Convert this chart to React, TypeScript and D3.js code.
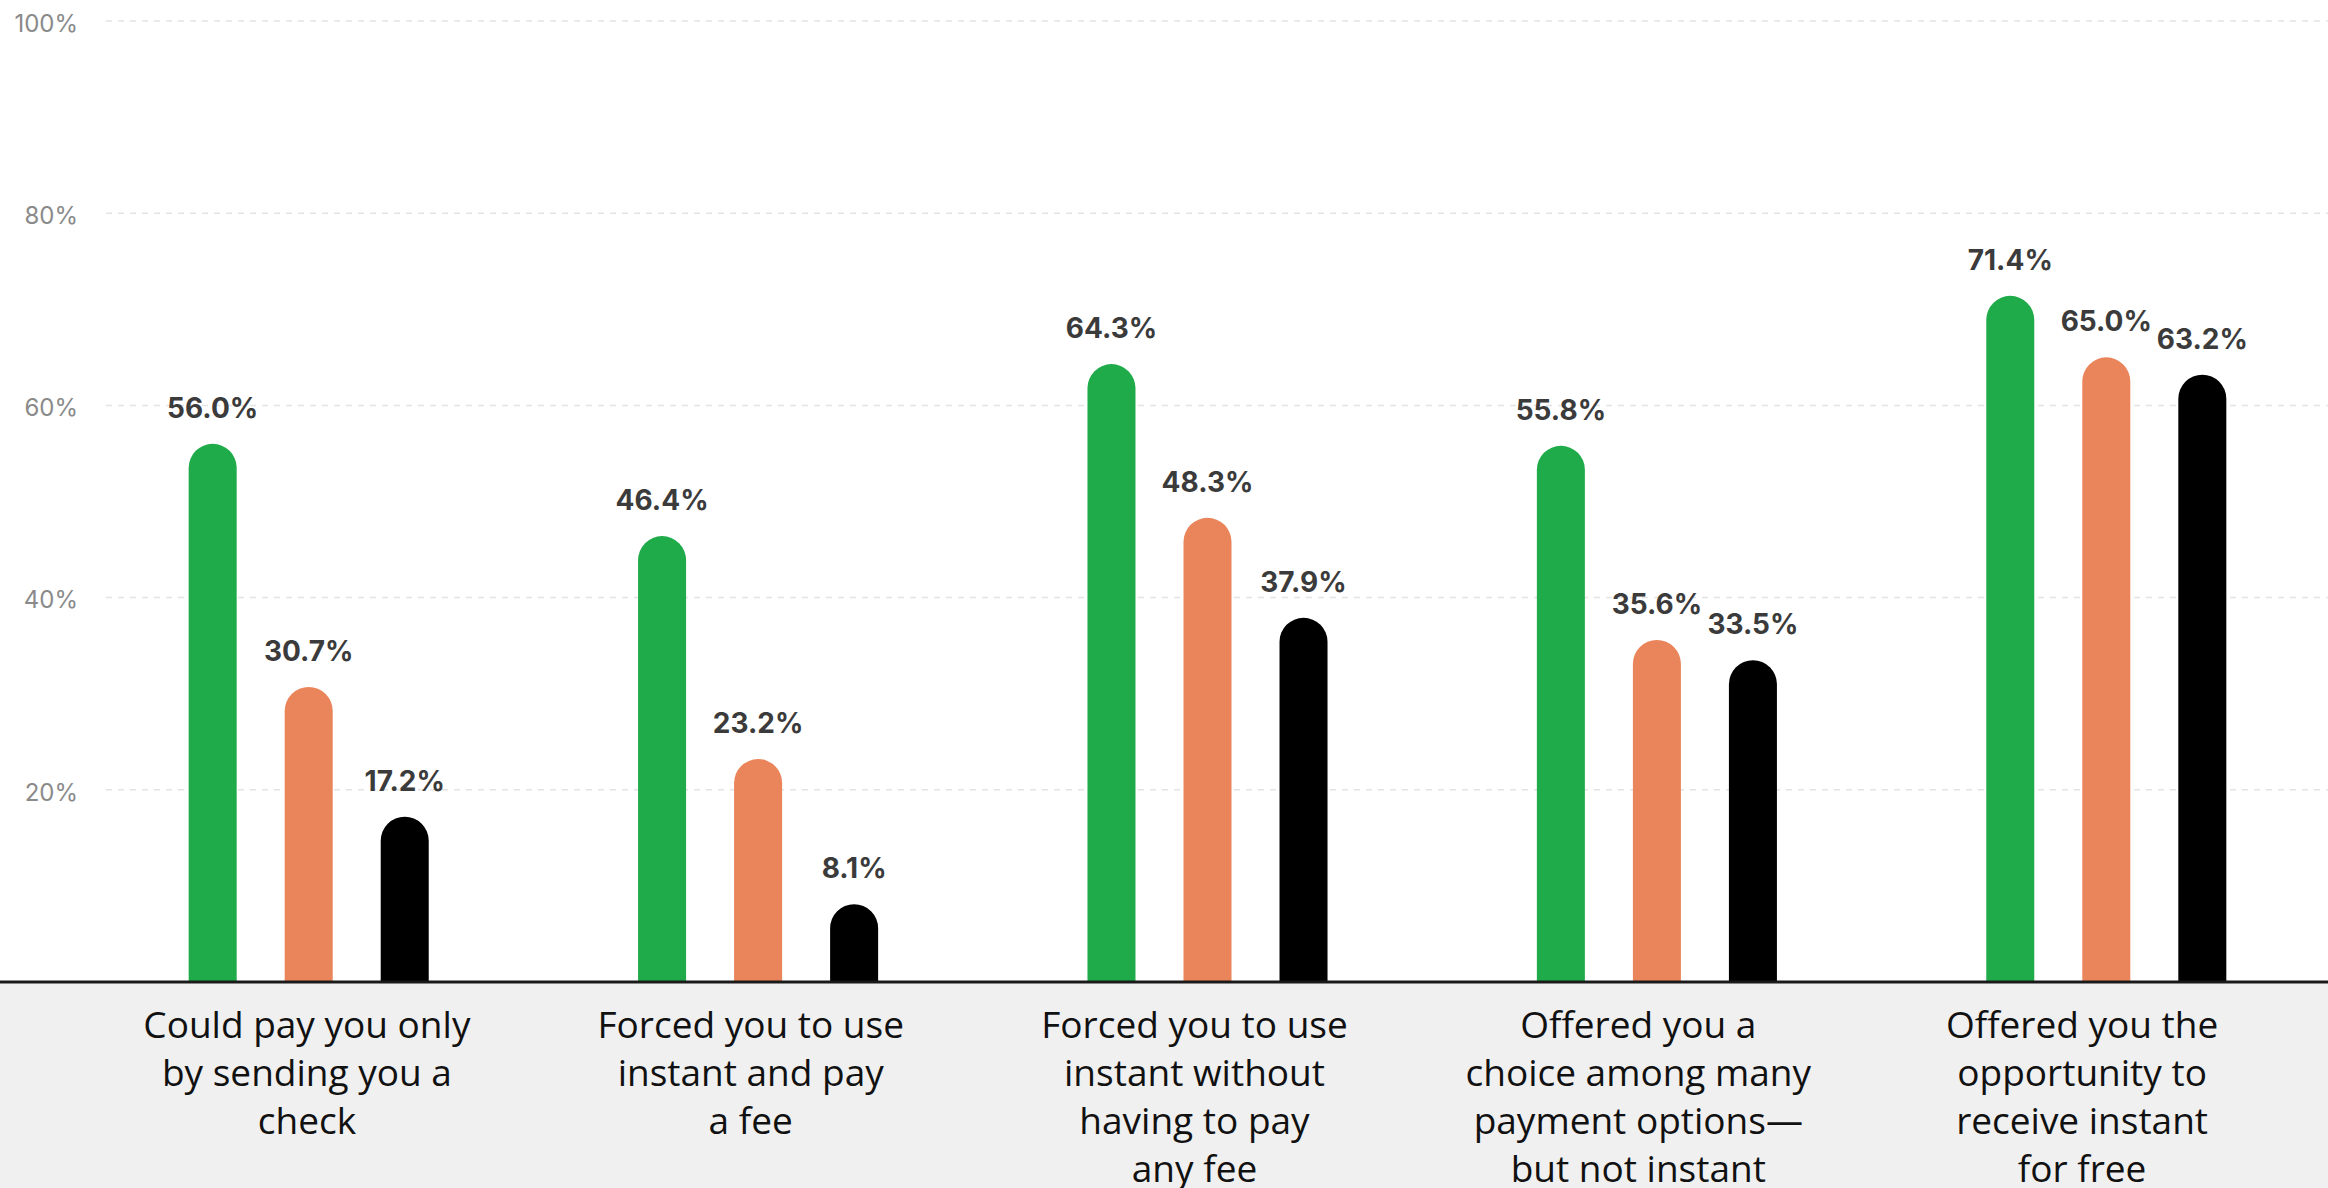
import React, { useEffect } from "react";
import * as d3 from "d3";

const categories: string[][] = [
  ["Could pay you only", "by sending you a", "check"],
  ["Forced you to use", "instant and pay", "a fee"],
  ["Forced you to use", "instant without", "having to pay", "any fee"],
  ["Offered you a", "choice among many", "payment options—", "but not instant"],
  ["Offered you the", "opportunity to", "receive instant", "for free"],
];
const seriesNames = ["green", "orange", "black"];
const greenValues = [56.0, 46.4, 64.3, 55.8, 71.4];
const orangeValues = [30.7, 23.2, 48.3, 35.6, 65.0];
const blackValues = [17.2, 8.1, 37.9, 33.5, 63.2];
const yTicks = [20, 40, 60, 80, 100];

const W = 2328;
const H = 1188;
const colors: Record<string, string> = { green: "#1fab4a", orange: "#ea845a", black: "#000000" };

export default function App() {
  useEffect(() => {
    document.body.style.margin = "0";
  }, []);

  const idx = categories.map((_, i) => String(i));
  const x = d3.scaleBand<string>().domain(idx).range([84, 2331]).padding(0);
  const xLabel = d3.scaleBand<string>().domain(idx).range([85, 2304]).padding(0);
  const step = x.step();
  const x1 = d3
    .scaleBand<string>()
    .domain(seriesNames)
    .range([-step * 0.3205, step * 0.3205])
    .paddingInner(0.5)
    .paddingOuter(0.25);
  const y = d3.scaleLinear().domain([0, 100]).range([982, 21]);

  const seriesData: Record<string, number[]> = {
    green: greenValues,
    orange: orangeValues,
    black: blackValues,
  };

  const bw = x1.bandwidth();
  const r = bw / 2;
  const barPath = (x0: number, yTop: number, yBase: number) =>
    `M${x0},${yBase}V${yTop + r}A${r},${r} 0 0 1 ${x0 + bw},${yTop + r}V${yBase}Z`;

  return (
    <svg width={W} height={H} style={{ position: "absolute", left: 0, top: 0, display: "block" }}>
      <rect x={0} y={0} width={W} height={H} fill="#ffffff" />
      <rect x={0} y={y(0)} width={W} height={H - y(0)} fill="#f0f0f0" />
      {yTicks.map((t) => (
        <g key={t}>
          <line
            x1={106}
            x2={W}
            y1={y(t)}
            y2={y(t)}
            stroke="#e3e3e3"
            strokeWidth={1.5}
            strokeDasharray="6 6"
          />
          <text
            x={78}
            y={y(t)}
            dy="0.45em"
            textAnchor="end"
            fontFamily="Inter, 'Noto Sans', sans-serif"
            fontSize={24}
            fill="#8a8a8a"
          >
            {t}%
          </text>
        </g>
      ))}
      {idx.map((ci) =>
        seriesNames.map((s) => {
          const v = seriesData[s][+ci];
          const cx = (x(ci) as number) + step / 2 + (x1(s) as number);
          return (
            <g key={ci + s}>
              <path d={barPath(cx, y(v), y(0))} fill={colors[s]} />
              <text
                x={cx + bw / 2}
                y={y(v) - 26}
                textAnchor="middle"
                fontFamily="Inter, 'Noto Sans', sans-serif"
                fontWeight={700}
                fontSize={28}
                fill="#3b3b3b"
              >
                {v.toFixed(1)}%
              </text>
            </g>
          );
        })
      )}
      <line x1={0} x2={W} y1={y(0)} y2={y(0)} stroke="#1a1a1a" strokeWidth={3} />
      {categories.map((lines, i) => (
        <text
          key={i}
          x={(xLabel(String(i)) as number) + xLabel.step() / 2}
          y={1038}
          textAnchor="middle"
          fontFamily="'Open Sans', sans-serif"
          fontSize={37}
          fill="#111111"
        >
          {lines.map((l, j) => (
            <tspan key={j} x={(xLabel(String(i)) as number) + xLabel.step() / 2} dy={j === 0 ? 0 : 48}>
              {l}
            </tspan>
          ))}
        </text>
      ))}
    </svg>
  );
}
